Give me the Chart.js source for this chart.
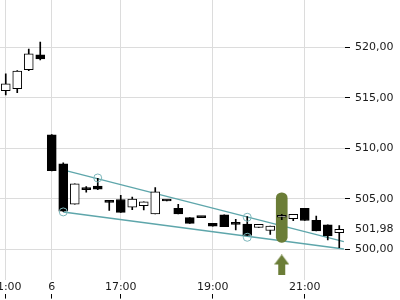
<!DOCTYPE html>
<html>
<head>
<meta charset="utf-8">
<script src="https://cdn.jsdelivr.net/npm/chart.js@4"></script>
<style>
  html, body { margin: 0; padding: 0; background: #fff; }
  canvas { display: block; }
</style>
</head>
<body>
<canvas id="candles" width="400" height="300"></canvas>
<script>
// 15 minute candles, last 4 of the previous evening then day 6 from 15:30
const times = ['21:00', '21:15', '21:30', '21:45',
  '15:30', '15:45', '16:00', '16:15', '16:30', '16:45', '17:00', '17:15', '17:30', '17:45',
  '18:00', '18:15', '18:30', '18:45', '19:00', '19:15', '19:30', '19:45', '20:00', '20:15',
  '20:30', '20:45', '21:00', '21:15', '21:30', '21:45'];

const open  = [515.70, 515.90, 517.78, 519.24, 511.32, 508.45, 504.46, 505.97, 506.27, 504.85,
  504.93, 504.16, 504.32, 503.50, 504.85, 504.06, 503.13, 503.20, 502.57, 503.40,
  502.53, 502.50, 502.16, 501.86, 503.17, 503.03, 504.06, 502.87, 502.41, 501.64];
const high  = [517.36, 517.70, 519.83, 520.52, 511.35, 508.57, 506.47, 506.20, 507.03, 504.85,
  505.33, 505.18, 504.71, 506.10, 504.85, 504.46, 503.13, 503.20, 502.57, 503.40,
  502.97, 503.23, 502.46, 502.31, 503.47, 503.47, 504.06, 503.30, 502.41, 502.34];
const low   = [515.28, 515.50, 517.68, 518.74, 507.75, 503.75, 504.46, 505.65, 505.90, 503.84,
  503.66, 503.92, 503.89, 503.50, 504.78, 503.50, 502.57, 503.14, 502.28, 502.24,
  501.91, 501.37, 502.16, 501.47, 502.93, 502.83, 502.85, 501.81, 500.92, 500.16];
const close = [516.37, 517.65, 519.34, 518.84, 507.78, 503.78, 506.47, 505.90, 505.94, 504.65,
  503.66, 504.98, 504.71, 505.70, 504.78, 503.50, 502.57, 503.14, 502.28, 502.24,
  502.47, 501.37, 502.46, 502.31, 503.23, 503.47, 502.85, 501.81, 501.32, 501.98];

const xTickIndex = [0, 4, 10, 18, 26];
const xTickText = ['21:00', '6', '17:00', '19:00', '21:00'];
const yTicks = [500, 505, 510, 515, 520];
const lastPrice = 501.98;

// trend channel (x in candle index units)
const upperX = [5.4, 29.4];
const upperY = [507.75, 500.75];
const lowerX = [5, 29.4];
const lowerY = [503.69, 500.03];
const circleX = [5, 8, 21, 21];
const circleY = [503.70, 507.06, 503.17, 501.19];

const markIndex = 24;
const markRange = [500.69, 505.6];
const arrowY = 498.45;

const teal = '#5ea6ab';
const olive = '#6b7d37';
const gridColor = '#dcdcdc';

function makeArrow() {
  const c = document.createElement('canvas');
  c.width = 15;
  c.height = 21;
  const g = c.getContext('2d');
  g.fillStyle = olive;
  g.beginPath();
  g.moveTo(7.5, 0);
  g.lineTo(15, 10);
  g.lineTo(11, 10);
  g.lineTo(11, 21);
  g.lineTo(4, 21);
  g.lineTo(4, 10);
  g.lineTo(0, 10);
  g.closePath();
  g.fill();
  return c;
}

const bodies = open.map((o, i) => [o, close[i]]);
const wicks = low.map((l, i) => [l, high[i]]);
const bodyColors = open.map((o, i) => close[i] > o ? '#ffffff' : '#000000');
const markData = times.map((t, i) => i === markIndex ? markRange : null);

Chart.defaults.font.family = 'DejaVu Sans';
Chart.defaults.font.size = 11;
Chart.defaults.color = '#1a1a1a';

const noSidePadding = (scale) => {
  scale.paddingLeft = 0;
  scale.paddingRight = 0;
};

new Chart(document.getElementById('candles'), {
  type: 'bar',
  data: {
    labels: times,
    datasets: [
      {
        type: 'line',
        xAxisID: 'xl',
        data: upperX.map((x, i) => ({ x: x, y: upperY[i] })),
        borderColor: teal,
        borderWidth: 1.3,
        pointRadius: 0,
        order: 6
      },
      {
        type: 'line',
        xAxisID: 'xl',
        data: lowerX.map((x, i) => ({ x: x, y: lowerY[i] })),
        borderColor: teal,
        borderWidth: 1.3,
        pointRadius: 0,
        order: 6
      },
      {
        data: markData,
        backgroundColor: olive,
        borderWidth: 0,
        barThickness: 11,
        borderRadius: 5.5,
        borderSkipped: false,
        grouped: false,
        order: 5
      },
      {
        data: wicks,
        backgroundColor: '#000',
        borderWidth: 0,
        barThickness: 1,
        grouped: false,
        order: 3
      },
      {
        data: bodies,
        backgroundColor: bodyColors,
        borderColor: '#000',
        borderWidth: 1,
        borderSkipped: false,
        barThickness: 9,
        minBarLength: 2,
        grouped: false,
        order: 2
      },
      {
        type: 'line',
        xAxisID: 'xl',
        data: circleX.map((x, i) => ({ x: x, y: circleY[i] })),
        showLine: false,
        pointRadius: 4,
        pointBorderWidth: 1,
        pointBorderColor: '#7db7bb',
        pointBackgroundColor: 'rgba(0,0,0,0)',
        order: 1
      },
      {
        type: 'line',
        xAxisID: 'xl',
        data: [{ x: markIndex, y: arrowY }],
        showLine: false,
        pointStyle: makeArrow(),
        pointRadius: 8,
        order: 0
      }
    ]
  },
  options: {
    responsive: false,
    animation: false,
    layout: { autoPadding: false, padding: { top: 0, left: 0, right: 0, bottom: 1.4 } },
    plugins: { legend: { display: false }, tooltip: { enabled: false } },
    scales: {
      x: {
        type: 'category',
        position: 'bottom',
        weight: 0,
        offset: true,
        grid: { offset: false, color: gridColor, drawTicks: false },
        border: { display: false },
        ticks: {
          autoSkip: false,
          maxRotation: 0,
          padding: 0,
          callback: (value) => xTickText[xTickIndex.indexOf(value)]
        },
        afterBuildTicks: (scale) => { scale.ticks = xTickIndex.map(v => ({ value: v })); },
        afterFit: noSidePadding
      },
      x2: {
        type: 'category',
        position: 'bottom',
        weight: 1,
        offset: true,
        grid: { offset: false, drawOnChartArea: false, drawTicks: true, tickLength: 5, tickColor: '#000' },
        border: { display: false },
        ticks: { display: false, autoSkip: false },
        afterBuildTicks: (scale) => { scale.ticks = xTickIndex.map(v => ({ value: v })); },
        afterFit: noSidePadding
      },
      xl: {
        type: 'linear',
        display: false,
        offset: false,
        grace: 0,
        min: -0.5,
        max: 29.5
      },
      y: {
        position: 'right',
        min: 496.92,
        max: 524.68,
        grid: {
          color: (ctx) => ctx.tick && ctx.tick.value === lastPrice ? 'rgba(0,0,0,0)' : gridColor,
          tickColor: (ctx) => ctx.tick && ctx.tick.value === lastPrice ? 'rgba(0,0,0,0)' : '#000',
          tickLength: 5
        },
        border: { display: false },
        ticks: {
          autoSkip: false,
          includeBounds: false,
          padding: 5,
          callback: (value) => value.toFixed(2).replace('.', ',')
        },
        afterBuildTicks: (scale) => {
          scale.ticks = yTicks.concat([lastPrice]).sort((a, b) => a - b).map(v => ({ value: v }));
        },
        afterFit: (scale) => {
          scale.width = 55;
          scale.paddingTop = 0;
          scale.paddingBottom = 0;
        }
      }
    }
  }
});
</script>
</body>
</html>
